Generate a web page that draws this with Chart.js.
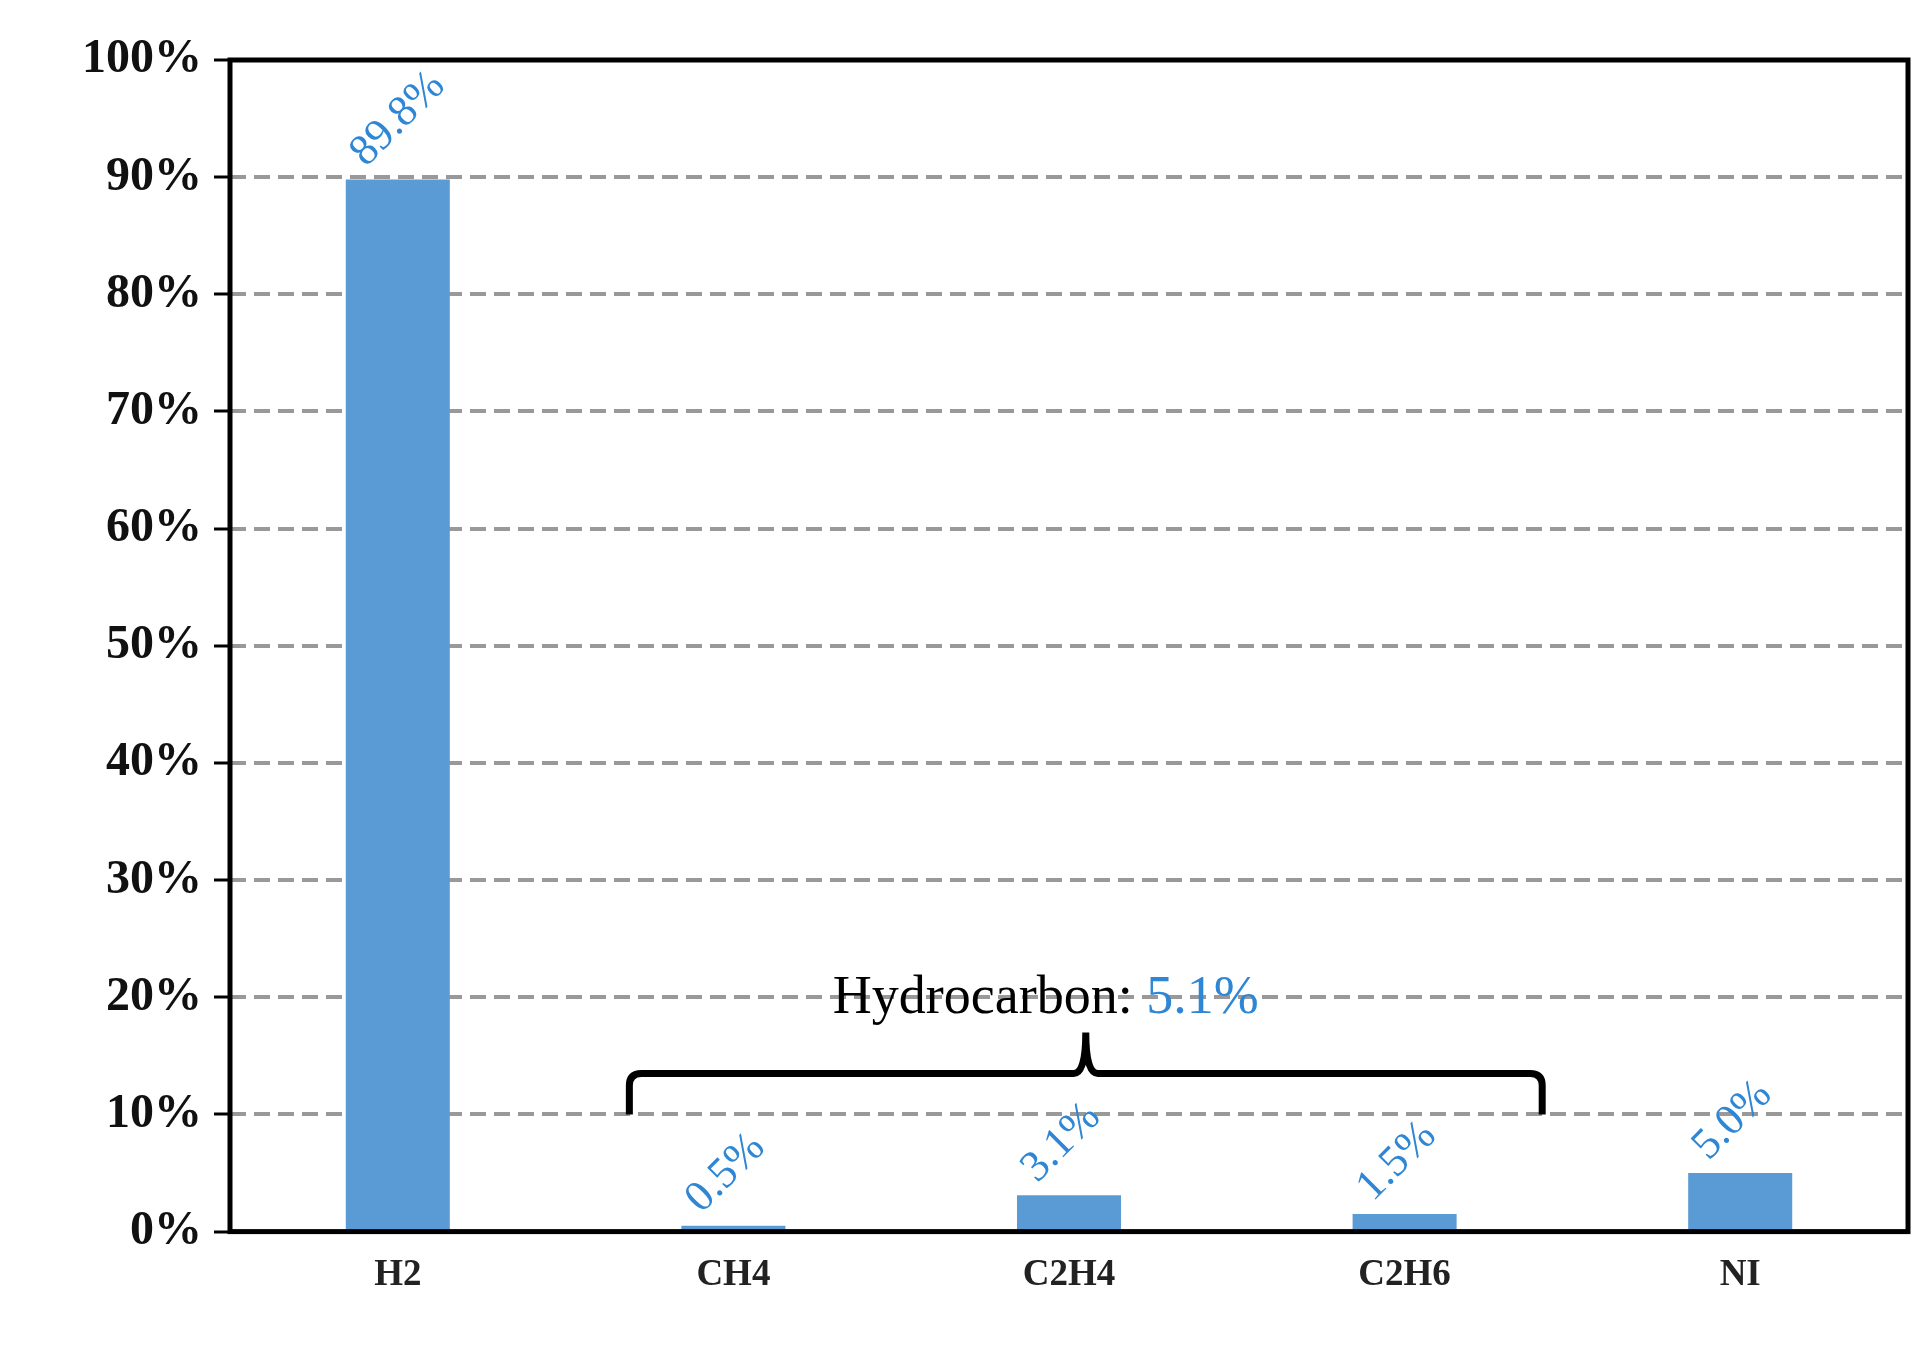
<!DOCTYPE html>
<html>
<head>
<meta charset="utf-8">
<script src="https://cdn.jsdelivr.net/npm/chart.js@4"></script>
<style>
  body { margin: 0; background: #fff; }
  #wrap { width: 1932px; height: 1352px; }
</style>
</head>
<body>
<div id="wrap"><canvas id="grafico"></canvas></div>
<script>
// Datos
const gases = ['H2', 'CH4', 'C2H4', 'C2H6', 'NI'];
const fraccion = [89.8, 0.5, 3.1, 1.5, 5.0];
const yTicks = [0, 10, 20, 30, 40, 50, 60, 70, 80, 90, 100];
const hidrocarburoTotal = 5.1;

const azul = '#5b9bd5';
const azulTexto = '#2e86d4';

// Etiquetas de valor giradas + llave "Hydrocarbon"
const anotaciones = {
    id: 'anotaciones',
    afterDatasetsDraw(chart) {
        const ctx = chart.ctx;
        const x = chart.scales.x, y = chart.scales.y;
        const meta = chart.getDatasetMeta(0);
        ctx.save();
        ctx.fillStyle = azulTexto;
        ctx.font = '44px "Liberation Serif"';
        ctx.textAlign = 'left';
        ctx.textBaseline = 'middle';
        meta.data.forEach((bar, i) => {
            ctx.save();
            ctx.translate(bar.x - 40, bar.y - 20);
            ctx.rotate(-Math.PI / 4);
            ctx.fillText(fraccion[i].toFixed(1) + '%', 0, 0);
            ctx.restore();
        });

        // llave
        const step = x.getPixelForValue(1) - x.getPixelForValue(0);
        const x0 = x.getPixelForValue(1) - step * 0.31;
        const x1 = x.getPixelForValue(3) + step * 0.41;
        const xm = x.getPixelForValue(2) + step * 0.05;
        const yb = y.getPixelForValue(10);
        const yt = y.getPixelForValue(13.5);
        const yp = y.getPixelForValue(17);
        const r = 12;
        ctx.strokeStyle = '#000';
        ctx.lineWidth = 7;
        ctx.beginPath();
        ctx.moveTo(x0, yb);
        ctx.lineTo(x0, yt + r);
        ctx.quadraticCurveTo(x0, yt, x0 + r, yt);
        ctx.lineTo(xm - r, yt);
        ctx.quadraticCurveTo(xm, yt, xm, yp);
        ctx.quadraticCurveTo(xm, yt, xm + r, yt);
        ctx.lineTo(x1 - r, yt);
        ctx.quadraticCurveTo(x1, yt, x1, yt + r);
        ctx.lineTo(x1, yb);
        ctx.stroke();

        // texto
        ctx.font = '54px "Liberation Serif"';
        ctx.textBaseline = 'alphabetic';
        const t1 = 'Hydrocarbon: ', t2 = hidrocarburoTotal.toFixed(1) + '%';
        const w1 = ctx.measureText(t1).width, w2 = ctx.measureText(t2).width;
        const tx = xm - 40 - (w1 + w2) / 2;
        const ty = y.getPixelForValue(18.7);
        ctx.fillStyle = '#000';
        ctx.fillText(t1, tx, ty);
        ctx.fillStyle = azulTexto;
        ctx.fillText(t2, tx + w1, ty);

        // marco
        const a = chart.chartArea;
        ctx.strokeStyle = '#000';
        ctx.lineWidth = 5;
        ctx.strokeRect(a.left, a.top, a.right - a.left, a.bottom - a.top);
        ctx.restore();
    }
};

new Chart(document.getElementById('grafico'), {
    type: 'bar',
    data: {
        labels: gases,
        datasets: [{
            data: fraccion,
            backgroundColor: azul,
            categoryPercentage: 1,
            barPercentage: 0.31
        }]
    },
    options: {
        responsive: true,
        maintainAspectRatio: false,
        animation: false,
        layout: { padding: { top: 60, right: 24, left: 70, bottom: 40 } },
        plugins: { legend: { display: false }, tooltip: { enabled: false } },
        scales: {
            x: {
                grid: { display: false },
                border: { display: false },
                ticks: { color: '#222', font: { family: 'Liberation Serif', size: 37, weight: 'bold' }, padding: 14 }
            },
            y: {
                min: 0, max: 100,
                afterBuildTicks: s => { s.ticks = yTicks.map(v => ({ value: v })); },
                grid: {
                    color: '#999', lineWidth: 4,
                    tickColor: '#000', tickLength: 16, tickWidth: 3
                },
                border: { display: false, dash: [16, 8] },
                ticks: {
                    color: '#111', padding: 12,
                    font: { family: 'Liberation Serif', size: 48, weight: 'bold' },
                    callback: v => v + '%'
                }
            }
        }
    },
    plugins: [anotaciones]
});
</script>
</body>
</html>
